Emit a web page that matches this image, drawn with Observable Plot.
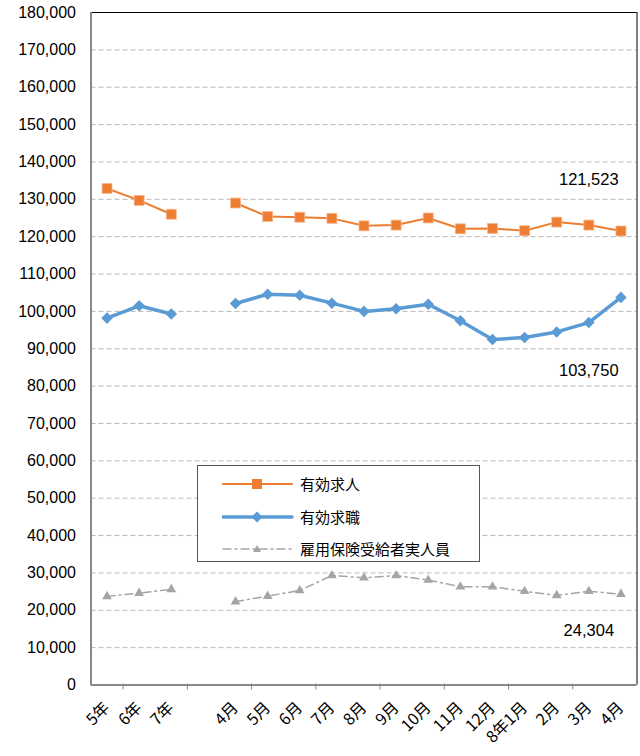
<!DOCTYPE html>
<html>
<head>
<meta charset="utf-8">
<script src="https://cdn.jsdelivr.net/npm/d3@7"></script>
<script src="https://cdn.jsdelivr.net/npm/@observablehq/plot@0.6"></script>
<style>
  html, body { margin: 0; padding: 0; background: #fff; }
  #wrap { position: relative; width: 640px; height: 756px; }
  #legend {
    position: absolute; left: 197px; top: 465px; width: 283px; height: 97px;
    border: 1px solid #555; background: #fff; box-sizing: border-box;
    font-family: "Noto Sans CJK JP", "Liberation Sans", sans-serif; font-size: 15px; color: #000;
  }
  .row { position: absolute; left: 0; height: 20px; display: flex; align-items: center; }
  .row svg { position: absolute; left: 24px; top: 0; }
  .row span { position: absolute; left: 102px; white-space: nowrap; line-height: 20px; }
</style>
</head>
<body>
<div id="wrap"></div>
<script>
// ---- data ----
const categories = ["5年", "6年", "7年", "", "4月", "5月", "6月", "7月", "8月", "9月", "10月", "11月", "12月", "8年1月", "2月", "3月", "4月"];
const seriesNames = ["有効求人", "有効求職", "雇用保険受給者実人員"];
const kyujin   = [132900, 129700, 126000, null, 129000, 125400, 125200, 124900, 122900, 123100, 125000, 122100, 122200, 121600, 123900, 123100, 121523];
const kyushoku = [98200, 101500, 99300, null, 102100, 104600, 104300, 102200, 100000, 100700, 101900, 97500, 92500, 93000, 94500, 97000, 103750];
const jukyu    = [23700, 24600, 25600, null, 22300, 23800, 25300, 29300, 28700, 29300, 28100, 26300, 26300, 25100, 24000, 25100, 24304];
const yTicks = d3.range(0, 180001, 10000);
const lastLabels = ["121,523", "103,750", "24,304"];

const idx = categories.map((_, i) => i);
const rows = (vals) => idx.map(i => ({i, v: vals[i]}));
const dOrange = rows(kyujin), dBlue = rows(kyushoku), dGray = rows(jukyu);
const present = d => d.v != null;

const ORANGE = "#ED7D31", BLUE = "#5B9BD5", GRAY = "#A5A5A5";
const fontNum = "'Liberation Sans', Arial, 'Noto Sans CJK JP', sans-serif";
const fontJP = "'Noto Sans CJK JP', 'Liberation Sans', sans-serif";

// tick marks at every other category boundary (as in reference)
const boundaryTicks = d3.range(1, categories.length, 2).map(b => b - 0.5);
const last = categories.length - 1;

const chart = Plot.plot({
  width: 640,
  height: 756,
  marginLeft: 90.5,
  marginRight: 3.5,
  marginTop: 12,
  marginBottom: 71.5,
  style: { fontFamily: fontNum, background: "#fff" },
  x: { type: "linear", domain: [-0.5, categories.length - 0.5], axis: null, label: null },
  y: { domain: [0, 180000], axis: null, label: null },
  marks: [
    // dashed gridlines
    Plot.ruleY(yTicks.filter(t => t > 0 && t < 180000), { stroke: "#b8b8b8", strokeWidth: 1, strokeDasharray: "5,3" }),
    // top and right black borders
    Plot.ruleY([180000], { stroke: "#000", strokeWidth: 1 }),
    Plot.ruleX([categories.length - 0.5], { stroke: "#000", strokeWidth: 1 }),
    // left and bottom gray axis lines
    Plot.ruleX([-0.5], { stroke: "#888", strokeWidth: 2 }),
    Plot.ruleY([0], { stroke: "#888", strokeWidth: 2 }),
    // bottom tick marks
    Plot.ruleX(boundaryTicks, { x: d => d, y1: 0, y2: 0, insetTop: -1, insetBottom: -5, stroke: "#888", strokeWidth: 1 }),
    // y axis labels
    Plot.axisY({ ticks: yTicks, tickFormat: d3.format(","), tickSize: 0, tickPadding: 15, fontSize: 16, fontFamily: fontNum, fill: "#000", label: null }),
    // x axis labels
    Plot.axisX({ ticks: idx.filter(i => categories[i] !== ""), tickFormat: i => categories[i], tickSize: 0, tickPadding: 20, tickRotate: -45, fontSize: 16, fontFamily: fontJP, fill: "#000", label: null }),
    // series: 雇用保険受給者実人員
    Plot.line(dGray, { x: "i", y: "v", stroke: GRAY, strokeWidth: 1.5, strokeDasharray: "8,4,2,4" }),
    Plot.dot(dGray.filter(present), { x: "i", y: "v", symbol: "triangle", r: 3.6, fill: GRAY, stroke: "none" }),
    // 有効求人
    Plot.line(dOrange, { x: "i", y: "v", stroke: ORANGE, strokeWidth: 2 }),
    Plot.dot(dOrange.filter(present), { x: "i", y: "v", symbol: "square", r: 5.6, fill: ORANGE, stroke: "#f5b58c", strokeWidth: 0.8 }),
    // 有効求職
    Plot.line(dBlue, { x: "i", y: "v", stroke: BLUE, strokeWidth: 3.5 }),
    Plot.dot(dBlue.filter(present), { x: "i", y: "v", symbol: "diamond2", r: 5.2, fill: BLUE, stroke: "none" }),
    // last-value labels
    Plot.text([{ v: kyujin[last], t: lastLabels[0] }], { x: last - 1, y: "v", text: "t", dy: -51, fontSize: 16.5, fill: "#000", fontFamily: fontNum }),
    Plot.text([{ v: kyushoku[last], t: lastLabels[1] }], { x: last - 1, y: "v", text: "t", dy: 73, fontSize: 16.5, fill: "#000", fontFamily: fontNum }),
    Plot.text([{ v: jukyu[last], t: lastLabels[2] }], { x: last - 1, y: "v", text: "t", dy: 37, fontSize: 16.5, fill: "#000", fontFamily: fontNum })
  ]
});

const wrap = document.getElementById("wrap");
wrap.appendChild(chart);

// legend overlay
const legend = document.createElement("div");
legend.id = "legend";
const legendSpecs = [
  { name: seriesNames[0], color: ORANGE, width: 2, dash: null, sym: "square" },
  { name: seriesNames[1], color: BLUE, width: 3.5, dash: null, sym: "diamond" },
  { name: seriesNames[2], color: GRAY, width: 1.5, dash: "8,4,2,4", sym: "triangle" }
];
const rowTops = [8, 41, 73];
legendSpecs.forEach((s, k) => {
  const row = document.createElement("div");
  row.className = "row";
  row.style.top = rowTops[k] + "px";
  let marker = "";
  if (s.sym === "square") marker = `<rect x="30" y="5" width="10" height="10" fill="${s.color}"/>`;
  if (s.sym === "diamond") marker = `<path d="M35,4.5 L40.5,10 L35,15.5 L29.5,10 Z" fill="${s.color}"/>`;
  if (s.sym === "triangle") marker = `<path d="M35,6 L39,13 L31,13 Z" fill="${s.color}"/>`;
  row.innerHTML = `<svg width="72" height="20"><line x1="1" x2="70" y1="10" y2="10" stroke="${s.color}" stroke-width="${s.width}" ${s.dash ? `stroke-dasharray="${s.dash}"` : ""} stroke-linecap="round"/>${marker}</svg><span>${s.name}</span>`;
  legend.appendChild(row);
});
wrap.appendChild(legend);
</script>
</body>
</html>
